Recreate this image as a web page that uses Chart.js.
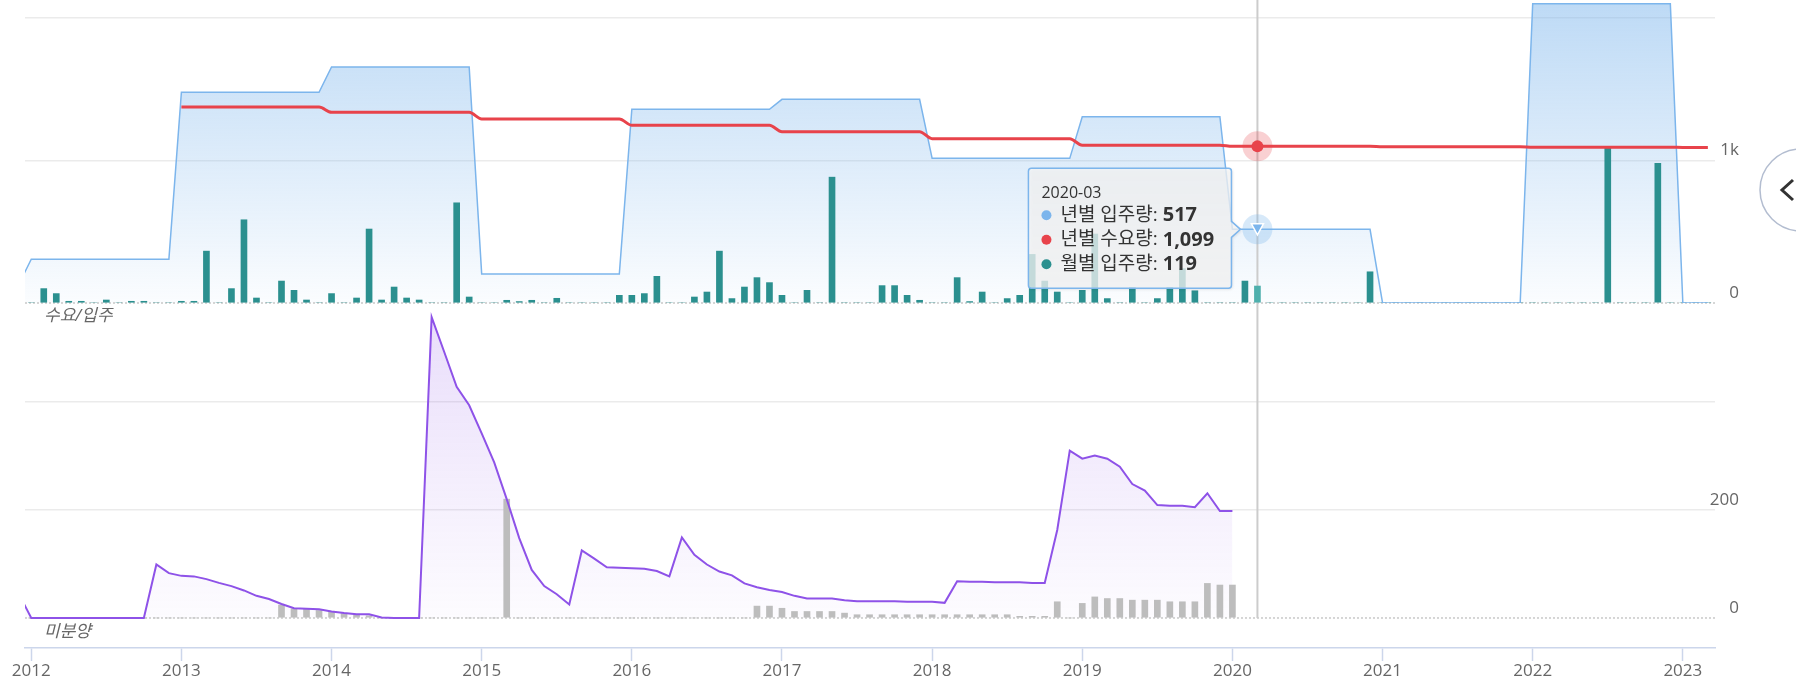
<!DOCTYPE html>
<html>
<head>
<meta charset="utf-8">
<title>수요/입주 · 미분양</title>
<script src="https://cdn.jsdelivr.net/npm/chart.js@4.4.1/dist/chart.umd.min.js"></script>
<style>
    html, body { margin: 0; padding: 0; background: #fff; overflow: hidden; }
    #wrap { position: relative; width: 1796px; height: 693px; }
    #btn { position: absolute; left: 1740px; top: 140px; }
</style>
</head>
<body>
<div id="wrap">
    <canvas id="grafico" width="1796" height="693"></canvas>
    <svg id="btn" width="56" height="100">
        <circle cx="61" cy="50" r="41" fill="#fff" stroke="#b3bdd0" stroke-width="1.5"></circle>
        <polyline points="53,40 42,50 53,60" fill="none" stroke="#333" stroke-width="3"></polyline>
    </svg>
</div>
<script>
// 데이터 (월 인덱스 0 = 2012-01)
var firstYear = 2012
var monthCount = 135   // 2012-01 ~ 2023-03
var yearList = [2011, 2012, 2013, 2014, 2015, 2016, 2017, 2018, 2019, 2020, 2021, 2022, 2023]
// 년별 입주량 / 년별 수요량
var yearlyMoveIn = [130, 307, 1479, 1656, 203, 1359, 1429, 1015, 1307, 517, 0, 2100, 0]
var yearlyDemand = [null, null, 1375, 1338, 1291, 1247, 1202, 1153, 1107, 1099, 1096, 1093, 1091]
// 월별 입주량
var monthlyMoveIn = [
    0, 101, 66, 12, 12, 0, 21, 0, 12, 12, 0, 0,          // 2012
    12, 12, 364, 0, 101, 584, 35, 0, 154, 89, 21, 0,     // 2013
    66, 0, 35, 519, 21, 112, 35, 21, 0, 0, 703, 42,      // 2014
    0, 0, 19, 10, 19, 0, 33, 0, 0, 0, 0, 54,             // 2015
    54, 66, 187, 0, 0, 42, 77, 364, 31, 112, 178, 143,   // 2016
    54, 0, 89, 0, 883, 0, 0, 0, 122, 122, 54, 19,        // 2017
    0, 0, 178, 10, 77, 0, 31, 54, 341, 154, 77, 0,       // 2018
    89, 484, 31, 0, 108, 0, 31, 108, 241, 86, 0, 0,      // 2019
    0, 154, 119, 0, 0, 0, 0, 0, 0, 0, 0, 219,            // 2020
    0, 0, 0, 0, 0, 0, 0, 0, 0, 0, 0, 0,                  // 2021
    0, 0, 0, 0, 0, 0, 1090, 0, 0, 0, 980, 0,             // 2022
    0, 0, 0                                              // 2023
]
// 미분양 (선) - 2011-12 부터
var unsoldTotal = [
    45,
    0, 0, 0, 0, 0, 0, 0, 0, 0, 0, 99, 83,                // 2012
    78, 77, 72, 65, 59, 51, 41, 35, 26, 18, 17, 16,      // 2013
    12, 9, 7, 7, 1, 0, 0, 0, 557, 493, 428, 394,         // 2014
    342, 288, 220, 148, 89, 59, 44, 25, 125, 110, 94, 93,// 2015
    92, 91, 87, 77, 149, 117, 99, 86, 79, 64, 57, 52,    // 2016
    48, 41, 36, 36, 36, 33, 31, 31, 31, 31, 30, 30,      // 2017
    30, 28, 68, 67, 67, 66, 66, 66, 65, 65, 163, 310,    // 2018
    295, 301, 295, 280, 248, 236, 209, 208, 208, 205, 231, 198, // 2019
    198                                                  // 2020
]
// 미분양 (막대) - 2012-01 부터
var unsoldBars = [
    0, 0, 0, 0, 0, 0, 0, 0, 0, 0, 0, 0,                  // 2012
    0, 0, 0, 0, 0, 0, 0, 0, 24, 17, 16, 14,              // 2013
    11, 8, 6, 4, 0, 0, 0, 0, 0, 0, 0, 0,                 // 2014
    0, 0, 220, 0, 0, 0, 0, 0, 0, 0, 0, 0,                // 2015
    0, 0, 0, 0, 0, 0, 0, 0, 0, 0, 22, 22,                // 2016
    18, 12, 12, 12, 12, 9, 6, 6, 6, 6, 6, 6,             // 2017
    6, 6, 6, 6, 6, 6, 6, 3, 3, 3, 30, 0,                 // 2018
    27, 39, 36, 36, 33, 33, 33, 30, 30, 30, 64, 61,      // 2019
    61                                                   // 2020
]
var yearTicks = [2012, 2013, 2014, 2015, 2016, 2017, 2018, 2019, 2020, 2021, 2022, 2023]
var yTopTicks = [0, 1000, 2000]
var yTopLabels = ['0', '1k', '']
var yBotTicks = [0, 200, 400]
var yBotLabels = ['0', '200', '']
var seriesNames = ['년별 입주량', '년별 수요량', '월별 입주량']
var hoverMonth = 98   // 2020-03

var family = '"Open Sans", "Noto Sans CJK KR", sans-serif'
var blue = '#7cb5ec', red = '#e8434b', teal = '#2b908f', purple = '#8e52e8', gray = '#bdbdbd'

function yearValue(arr, i) {
    return arr[yearList.indexOf(firstYear + Math.floor(i / 12))]
}
function monthName(i) {
    var y = firstYear + Math.floor(i / 12)
    var m = ((i % 12) + 12) % 12 + 1
    return y + '-' + (m < 10 ? '0' + m : m)
}

var moveInLine = [], demandLine = []
for (var i = -1; i < monthCount; i++) {
    moveInLine.push({ x: i, y: yearValue(yearlyMoveIn, i) })
    demandLine.push({ x: i, y: yearValue(yearlyDemand, i) })
}
var moveInBars = monthlyMoveIn.map(function (v, i) { return { x: i, y: v } })
var unsoldLine = unsoldTotal.map(function (v, i) { return { x: i - 1, y: v } })
var unsoldBarData = unsoldBars.map(function (v, i) { return { x: i, y: v } })

function paneGradient(chart, id, rgb, a1, a2) {
    if (!chart.chartArea) return 'rgba(0,0,0,0)'
    var s = chart.scales[id]
    var g = chart.ctx.createLinearGradient(0, s.top, 0, s.getPixelForValue(0))
    g.addColorStop(0, 'rgba(' + rgb + ',' + a1 + ')')
    g.addColorStop(1, 'rgba(' + rgb + ',' + a2 + ')')
    return g
}

function circle(ctx, x, y, r) {
    ctx.beginPath()
    ctx.arc(x, y, r, 0, Math.PI * 2)
    ctx.fill()
}

// 점선 0 / 크로스헤어 / 툴팁 / 라벨
var extras = {
    id: 'extras',
    beforeDatasetsDraw: function (chart) {
        var ctx = chart.ctx, a = chart.chartArea
        ctx.save()
        ctx.strokeStyle = '#c9c9c9'
        ctx.lineWidth = 1.5
        ctx.setLineDash([2, 2])
        ;['yTop', 'yBot'].forEach(function (id) {
            var y = chart.scales[id].getPixelForValue(0)
            ctx.beginPath()
            ctx.moveTo(a.left, y)
            ctx.lineTo(a.right, y)
            ctx.stroke()
        })
        ctx.setLineDash([])
        var hx = chart.scales.x.getPixelForValue(hoverMonth)
        ctx.strokeStyle = '#cccccc'
        ctx.lineWidth = 2
        ctx.beginPath()
        ctx.moveTo(hx, 0)
        ctx.lineTo(hx, chart.scales.yBot.getPixelForValue(0))
        ctx.stroke()
        ctx.restore()
    },
    afterDraw: function (chart) {
        var ctx = chart.ctx, a = chart.chartArea
        var xs = chart.scales.x, yt = chart.scales.yTop, yb = chart.scales.yBot
        ctx.save()

        // y축 라벨 (오른쪽)
        ctx.font = '17px ' + family
        ctx.fillStyle = '#666'
        ctx.textAlign = 'right'
        ctx.textBaseline = 'middle'
        var lx = a.right + 24
        yTopTicks.forEach(function (v, k) {
            if (yTopLabels[k]) ctx.fillText(yTopLabels[k], lx, yt.getPixelForValue(v) - 10)
        })
        yBotTicks.forEach(function (v, k) {
            if (yBotLabels[k]) ctx.fillText(yBotLabels[k], lx, yb.getPixelForValue(v) - 10)
        })

        // 패널 이름
        ctx.font = 'italic 17px ' + family
        ctx.textAlign = 'left'
        ctx.fillText('수요/입주', a.left + 19, yt.getPixelForValue(0) + 13)
        ctx.fillText('미분양', a.left + 19, yb.getPixelForValue(0) + 14)

        // 호버 마커
        var hx = xs.getPixelForValue(hoverMonth)
        var vBlue = yearValue(yearlyMoveIn, hoverMonth)
        var vRed = yearValue(yearlyDemand, hoverMonth)
        var vTeal = monthlyMoveIn[hoverMonth]
        var yBlue = yt.getPixelForValue(vBlue)
        var yRed = yt.getPixelForValue(vRed)
        ctx.fillStyle = 'rgba(232,67,75,0.25)'
        circle(ctx, hx, yRed, 15)
        ctx.fillStyle = red
        circle(ctx, hx, yRed, 6)
        ctx.fillStyle = 'rgba(124,181,236,0.3)'
        circle(ctx, hx, yBlue, 15)
        ctx.beginPath()
        ctx.moveTo(hx - 6, yBlue - 5.5)
        ctx.lineTo(hx + 6, yBlue - 5.5)
        ctx.lineTo(hx, yBlue + 5.5)
        ctx.closePath()
        ctx.fillStyle = blue
        ctx.fill()
        ctx.strokeStyle = '#fff'
        ctx.lineWidth = 1.5
        ctx.stroke()

        // 툴팁
        var bw = 203, bh = 120, r = 3
        var bx = hx - 229, by = yBlue - 61
        var tip = hx - 17
        ctx.beginPath()
        ctx.moveTo(bx + r, by)
        ctx.lineTo(bx + bw - r, by)
        ctx.arcTo(bx + bw, by, bx + bw, by + r, r)
        ctx.lineTo(bx + bw, yBlue - 8)
        ctx.lineTo(tip, yBlue)
        ctx.lineTo(bx + bw, yBlue + 8)
        ctx.lineTo(bx + bw, by + bh - r)
        ctx.arcTo(bx + bw, by + bh, bx + bw - r, by + bh, r)
        ctx.lineTo(bx + r, by + bh)
        ctx.arcTo(bx, by + bh, bx, by + bh - r, r)
        ctx.lineTo(bx, by + r)
        ctx.arcTo(bx, by, bx + r, by, r)
        ctx.closePath()
        ctx.shadowColor = 'rgba(0,0,0,0.18)'
        ctx.shadowOffsetX = 1
        ctx.shadowOffsetY = 1
        ctx.shadowBlur = 3
        ctx.fillStyle = 'rgba(250,250,250,0.75)'
        ctx.fill()
        ctx.shadowColor = 'transparent'
        ctx.strokeStyle = blue
        ctx.lineWidth = 1.5
        ctx.stroke()

        ctx.fillStyle = '#333'
        ctx.font = '16px ' + family
        ctx.fillText(monthName(hoverMonth), bx + 13, by + 25)
        var rows = [[blue, vBlue], [red, vRed], [teal, vTeal]]
        rows.forEach(function (row, k) {
            var ry = by + 47 + k * 24.5
            ctx.fillStyle = row[0]
            circle(ctx, bx + 18, ry, 5)
            ctx.fillStyle = '#333'
            ctx.font = '19px ' + family
            var txt = seriesNames[k] + ': '
            ctx.fillText(txt, bx + 32, ry)
            var w = ctx.measureText(txt).width
            ctx.font = 'bold 20px ' + family
            ctx.fillText(row[1].toLocaleString('en-US'), bx + 32 + w, ry)
        })
        ctx.restore()
    }
}

var ctx = document.getElementById('grafico').getContext('2d')
var myChart = new Chart(ctx, {
    type: 'line',
    data: {
        datasets: [
            {
                label: seriesNames[0],
                data: moveInLine,
                yAxisID: 'yTop',
                borderColor: blue,
                borderWidth: 1.5,
                backgroundColor: function (c) { return paneGradient(c.chart, 'yTop', '124,181,236', 0.5, 0.03) },
                fill: 'origin',
                pointRadius: 0,
                tension: 0,
                order: 1
            },
            {
                label: seriesNames[1],
                data: demandLine,
                yAxisID: 'yTop',
                borderColor: red,
                borderWidth: 3,
                fill: false,
                pointRadius: 0,
                cubicInterpolationMode: 'monotone',
                order: 0
            },
            {
                type: 'bar',
                label: seriesNames[2],
                data: moveInBars,
                yAxisID: 'yTop',
                backgroundColor: function (c) { return c.dataIndex === hoverMonth ? '#4fb0ad' : teal },
                barThickness: 6,
                grouped: false,
                order: 2
            },
            {
                label: '미분양',
                data: unsoldLine,
                yAxisID: 'yBot',
                borderColor: purple,
                borderWidth: 2,
                backgroundColor: function (c) { return paneGradient(c.chart, 'yBot', '142,82,232', 0.2, 0.02) },
                fill: 'origin',
                pointRadius: 0,
                tension: 0,
                order: 1
            },
            {
                type: 'bar',
                label: '미분양 월별',
                data: unsoldBarData,
                yAxisID: 'yBot',
                backgroundColor: gray,
                barThickness: 6,
                grouped: false,
                order: 2
            }
        ]
    },
    options: {
        responsive: false,
        animation: false,
        devicePixelRatio: 1,
        events: [],
        layout: { padding: { left: 25, right: 27, top: 2, bottom: 0 } },
        plugins: {
            legend: { display: false },
            tooltip: { enabled: false },
            filler: { drawTime: 'beforeDatasetsDraw' }
        },
        scales: {
            x: {
                type: 'linear',
                min: -0.5,
                max: 134.57,
                offset: false,
                grid: { offset: false, drawOnChartArea: false, drawTicks: true, tickLength: 13, tickColor: '#ccd6eb', tickWidth: 1.5 },
                border: { display: true, color: '#ccd6eb', width: 1.5 },
                ticks: {
                    autoSkip: false,
                    maxRotation: 0,
                    padding: 0,
                    color: '#666',
                    font: { size: 17, family: family },
                    callback: function (v) { return String(firstYear + v / 12) }
                },
                afterBuildTicks: function (ax) {
                    ax.ticks = yearTicks.map(function (y) { return { value: (y - firstYear) * 12 } })
                },
                afterFit: function (ax) { ax.height = 45 }
            },
            yTop: {
                type: 'linear',
                position: 'right',
                stack: 'pane',
                stackWeight: 301,
                min: 0,
                max: 2112,
                grid: {
                    drawTicks: false,
                    lineWidth: 1.5,
                    color: function (c) { return c.tick && c.tick.value === 0 ? 'rgba(0,0,0,0)' : '#ebebeb' }
                },
                border: { display: false },
                ticks: { display: false },
                afterBuildTicks: function (ax) {
                    ax.ticks = yTopTicks.map(function (v) { return { value: v } })
                },
                afterFit: function (ax) { ax.width = 54 }
            },
            yBot: {
                type: 'linear',
                position: 'right',
                stack: 'pane',
                stackWeight: 345,
                min: -55.6,
                max: 583.3,
                grid: {
                    drawTicks: false,
                    lineWidth: 1.5,
                    color: function (c) { return c.tick && c.tick.value === 0 ? 'rgba(0,0,0,0)' : '#ebebeb' }
                },
                border: { display: false },
                ticks: { display: false },
                afterBuildTicks: function (ax) {
                    ax.ticks = yBotTicks.map(function (v) { return { value: v } })
                },
                afterFit: function (ax) { ax.width = 54 }
            }
        }
    },
    plugins: [extras]
});
</script>
</body>
</html>
